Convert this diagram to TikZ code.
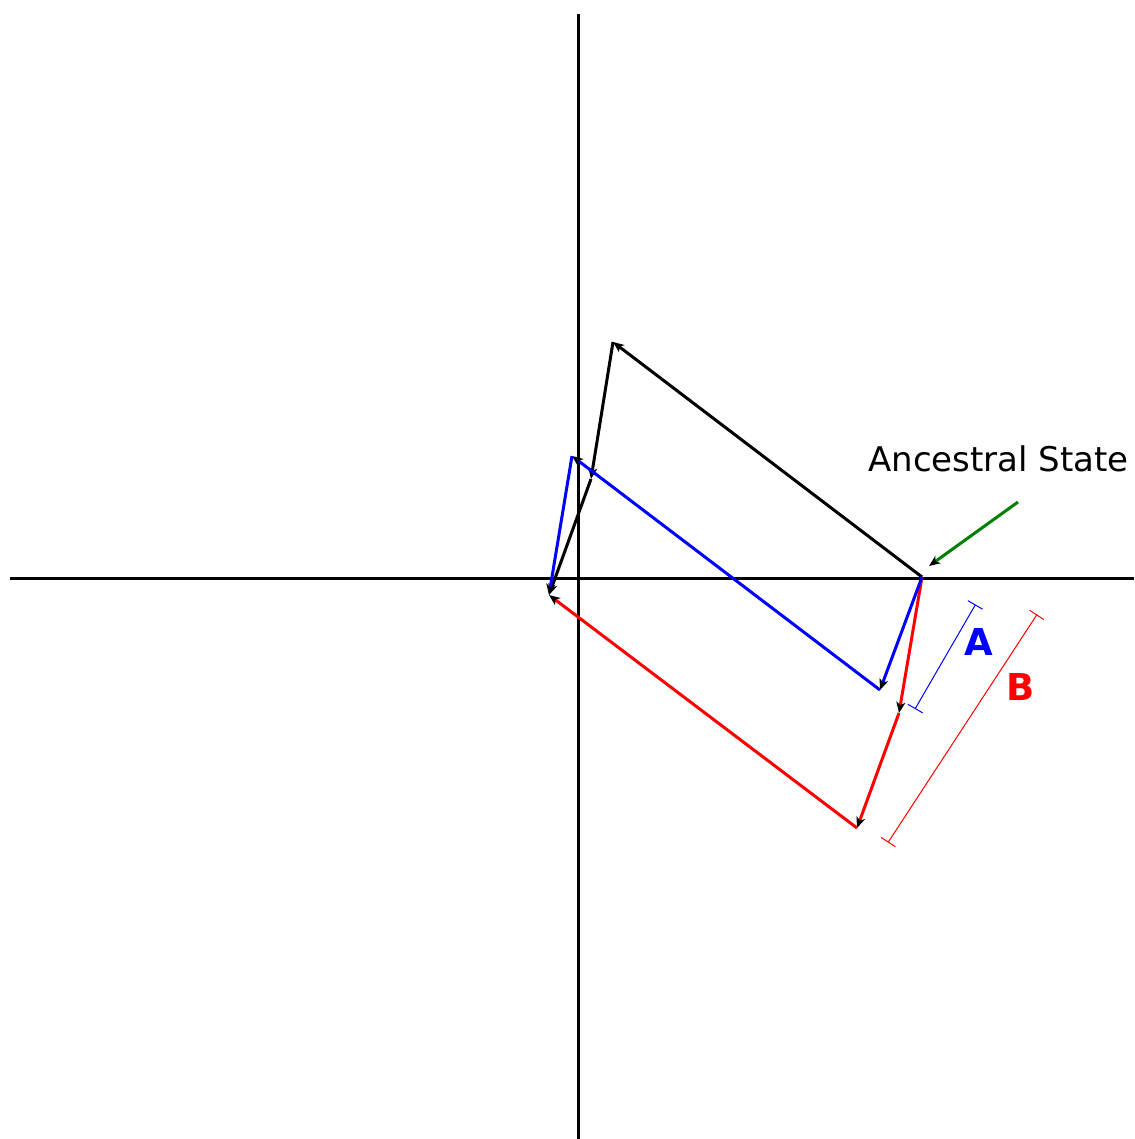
\documentclass[tikz,border=0pt]{standalone}
\usepackage{fontspec}
\setmainfont{DejaVu Sans}
\usetikzlibrary{arrows.meta}
\definecolor{dgreen}{RGB}{0,128,0}
\tikzset{
  axis/.style={line width=3pt, black},
  vec/.style={line width=3pt, line join=round, -{Stealth[length=11pt,width=9pt,inset=3pt,color=black]}},
  dim/.style={line width=1pt, {Bar[width=17pt]}-{Bar[width=17pt]}},
  lbl/.style={font=\fontsize{37}{40}\selectfont\bfseries, inner sep=0pt},
}
\begin{document}
\begin{tikzpicture}[x=1pt,y=-1pt]
\useasboundingbox (0,0) rectangle (1134,1139);
% axes
\coordinate (xl) at (10,578);
\coordinate (xr) at (1134,578);
\coordinate (yt) at (578,14);
\coordinate (yb) at (578,1139);
\draw[axis] (xl) -- (xr);
\draw[axis] (yt) -- (yb);
% points
\coordinate (P0) at (922,577);
\coordinate (K1) at (613,342);
\coordinate (K2) at (591,479);
\coordinate (E) at (549,595);
\coordinate (B1) at (880,690);
\coordinate (B2) at (572,456);
\coordinate (R1) at (899,713);
\coordinate (R2) at (857,828);
% black path
\draw[vec, black] (P0) -- (K1);
\draw[vec, black] (K1) -- (K2);
\draw[vec, black] (K2) -- (E);
% red path
\draw[vec, red] (P0) -- (R1);
\draw[vec, red] (R1) -- (R2);
\draw[vec, red] (R2) -- (E);
% blue path
\draw[vec, blue] (P0) -- (B1);
\draw[vec, blue] (B1) -- (B2);
\draw[vec, blue] (B2) -- (E);
% ancestral state
\node[anchor=base west, inner sep=0pt, font=\fontsize{34}{40}\selectfont] (anc) at (868,471) {Ancestral State};
\coordinate (g0) at (1018,502);
\coordinate (g1) at (929,566);
\draw[vec, dgreen] (g0) -- (g1);
% dimensions
\coordinate (Aa) at (975.5,604.5);
\coordinate (Ab) at (915,709);
\coordinate (Ba) at (1037,614.5);
\coordinate (Bb) at (888,842.5);
\draw[dim, blue] (Aa) -- (Ab);
\draw[dim, red] (Ba) -- (Bb);
\node[lbl, text=blue] (la) at (979,642) {A};
\node[lbl, text=red] (lb) at (1021,687) {B};
\end{tikzpicture}
\end{document}
